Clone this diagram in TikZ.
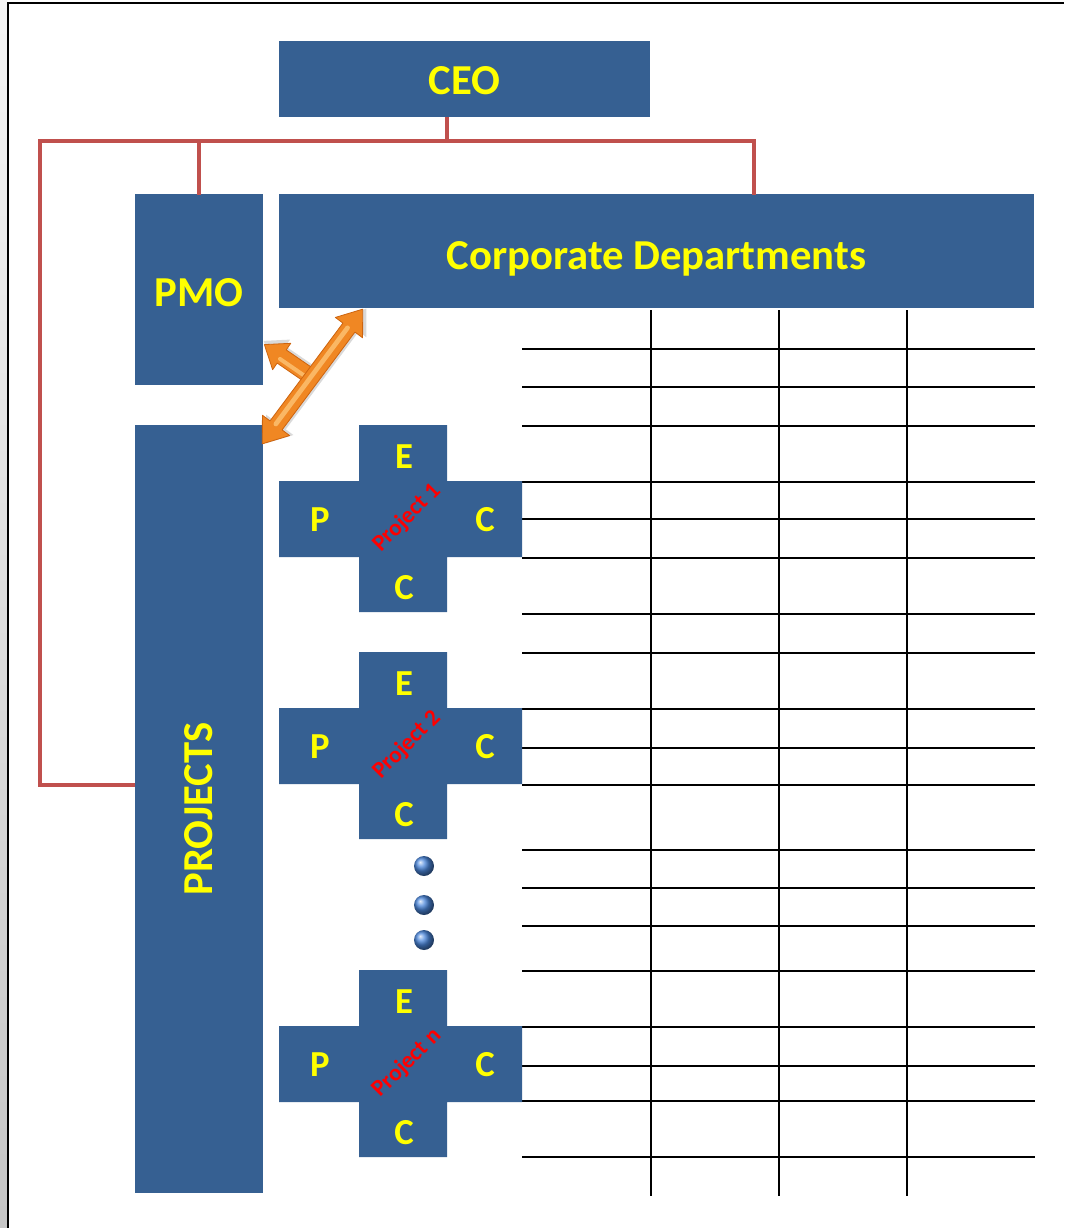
\documentclass[tikz,border=0pt]{standalone}
\usepackage{fontspec}
\setmainfont{Carlito}

\definecolor{boxblue}{RGB}{54,96,146}
\definecolor{labelyellow}{RGB}{255,255,0}
\definecolor{linkred}{RGB}{192,80,77}
\definecolor{arrowlight}{RGB}{252,192,112}
\definecolor{arroworange}{RGB}{240,135,35}
\definecolor{arrowdark}{RGB}{205,100,15}
\definecolor{sphereblue}{RGB}{75,135,220}

% lower a label inside its box without changing the box's own size
\newcommand\droptext[2]{\raisebox{-#1}[\height][\depth]{#2}}

\begin{document}
\begin{tikzpicture}[x=0.75pt,y=-0.75pt,
  box/.style={fill=boxblue, inner sep=0pt, text=labelyellow,
    font=\fontsize{32}{36}\selectfont\bfseries},
  letter/.style={inner sep=0pt, text=labelyellow,
    font=\fontsize{27.5}{30}\selectfont\bfseries},
  tag/.style={inner sep=0pt, text=red, rotate=45,
    font=\fontsize{17.5}{19}\selectfont\bfseries},
  org/.style={draw=linkred, line width=3pt, line join=miter},
  gridline/.style={draw=black, line width=1.5pt},
  dot/.style={circle, inner sep=0pt, minimum size=15pt, shading=ball, ball color=sphereblue},
  arrowbody/.style={fill=arroworange, draw=arrowdark, line width=0.6pt, line join=round},
  arrowshine/.style={draw=arrowlight, line cap=round, opacity=0.85},
  arrowshade/.style={fill=black, opacity=0.15}]

\useasboundingbox (0,0) rectangle (1064,1228);

% page edge
\shade[top color=white!92!gray, bottom color=gray!45] (0,0) rectangle (7,1228);
\draw[line width=1.6pt] (8,1228) -- (8,3) -- (1064,3);

% boxes
\node[box, minimum width={371*0.75pt}, minimum height={76*0.75pt}] (ceo) at (464.5,79) {\droptext{1.5pt}{CEO}};
\node[box, minimum width={128*0.75pt}, minimum height={191*0.75pt}] (pmo) at (199,289.5) {\droptext{2pt}{PMO}};
\node[box, minimum width={755*0.75pt}, minimum height={114*0.75pt}] (corp) at (656.5,251) {\droptext{6pt}{Corporate Departments}};
\node[box, rotate=90, minimum width={768*0.75pt}, minimum height={128*0.75pt}] (projects) at (199,809) {PROJECTS};

% reporting lines
\coordinate (busC) at (447,141);
\coordinate (busL) at (40,141);
\coordinate (projIn) at (135,785);
\coordinate (corpIn) at (754,195);
\draw[org] (projIn) -- (busL |- projIn) -- (busL) -- (corpIn |- busL) -- (corpIn);
\draw[org] (busC |- ceo.south) -- (busC);
\draw[org] (pmo.north |- busL) -- ([yshift=-1pt]pmo.north);

% grid of department cells
\foreach \y in {349,387,426,482,519,558,614,653,709,748,785,850,888,926,971,1027,1066,1101,1157}
  \draw[gridline] (522,\y) -- (1035,\y);
\foreach \x in {651,779,907}
  \draw[gridline] (\x,310) -- (\x,1196);

% project crosses
\foreach \top/\num/\nm in {425/1/a, 652/2/b, 970/n/c} {
  \fill[boxblue] (359,\top) -- (447,\top) -- (447,\top+56) -- (522,\top+56)
    -- (522,\top+132) -- (447,\top+132) -- (447,\top+187) -- (359,\top+187)
    -- (359,\top+132) -- (279,\top+132) -- (279,\top+56) -- (359,\top+56) -- cycle;
  \node[letter] (e\nm) at (404,\top+32) {E};
  \node[letter] (p\nm) at (320,\top+95) {P};
  \node[letter] (cr\nm) at (485,\top+95) {C};
  \node[letter] (cb\nm) at (404,\top+163) {C};
  \node[tag] (t\nm) at (407,\top+93) {Project \num};
}

% continuation dots
\node[dot] (dot1) at (424,866) {};
\node[dot] (dot2) at (424,905) {};
\node[dot] (dot3) at (424,940) {};

% PMO / departments / projects exchange arrow
\begin{scope}[shift={(313,378)}, rotate=145.5]
  \fill[arrowshade, xshift=2pt, yshift=-2pt] (-4,8) -- (38,8) -- (38,16) -- (59,0) -- (38,-16) -- (38,-8) -- (-4,-8) -- cycle;
  \path[arrowbody] (-4,8) -- (38,8) -- (38,16) -- (59,0) -- (38,-16) -- (38,-8) -- (-4,-8) -- cycle;
  \draw[arrowshine, line width=3pt] (8,-3) -- (38,-3);
\end{scope}
\begin{scope}[shift={(312.5,376.5)}, rotate=53.3]
  \fill[arrowshade, xshift=2pt, yshift=-2pt] (-84,0) -- (-61,17) -- (-61,7.5) -- (61,7.5) -- (61,17) -- (84,0)
    -- (61,-17) -- (61,-7.5) -- (-61,-7.5) -- (-61,-17) -- cycle;
  \path[arrowbody] (-84,0) -- (-61,17) -- (-61,7.5) -- (61,7.5) -- (61,17) -- (84,0)
    -- (61,-17) -- (61,-7.5) -- (-61,-7.5) -- (-61,-17) -- cycle;
  \draw[arrowshine, line width=3.5pt] (-60,-1) -- (60,-1);
\end{scope}

\end{tikzpicture}
\end{document}
